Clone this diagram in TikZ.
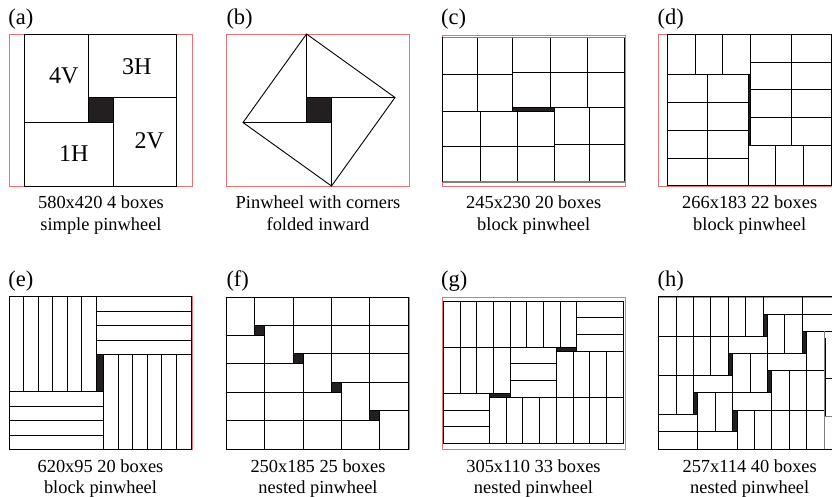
\documentclass[tikz,border=0pt]{standalone}
\usepackage{fontspec}
\setmainfont{Liberation Serif}
\definecolor{framered}{RGB}{238,112,112}
\definecolor{holeblack}{RGB}{35,31,32}
\newcommand\pbV[2]{\draw[pwcell] ({\ox+#1},{\oy+#2}) rectangle ++(\bw,\bh);}
\newcommand\pbH[2]{\draw[pwcell] ({\ox+#1},{\oy+#2}) rectangle ++(\bh,\bw);}
\newcommand\pbHole[4]{\fill[pwhole] ({\ox+#1},{\oy+#2}) rectangle ({\ox+#3},{\oy+#4});}
\begin{document}
\begin{tikzpicture}[x=1pt,y=-1pt,
  pwcell/.style={draw=black,line width=0.9pt},
  pwhole/.style={fill=holeblack},
  pwframe/.style={draw=framered,line width=0.8pt},
  pwlbl/.style={anchor=base west,inner sep=0pt,font=\fontsize{22.5}{26}\selectfont},
  captxt/.style={anchor=base,inner sep=0pt,font=\fontsize{18.4}{22}\selectfont},
  boxtxt/.style={inner sep=0pt,font=\fontsize{24}{28}\selectfont}]
\useasboundingbox (0,0) rectangle (832,496);
\fill[white] (0,0) rectangle (832,496);
\begin{scope}
\clip (0,0) rectangle (832,496);

% ---------- frames ----------
\draw[pwframe] (9.3,34) rectangle (192.7,186);
\draw[pwframe] (226.3,34) rectangle (409.7,186);
\draw[pwframe] (442,35) rectangle (625.4,186);
\draw[pwframe] (658,34.3) rectangle (841.4,186);
\draw[pwframe] (9,296.7) rectangle (192.3,449.4);
\draw[pwframe] (226.3,297) rectangle (409.3,449);
\draw[pwframe] (442,297) rectangle (625.4,449);
\draw[pwframe] (658.3,297) rectangle (841.4,449);

% ---------- (a) simple pinwheel ----------
\def\ox{24.5}\def\oy{34}\def\bw{63.5}\def\bh{88.5}
\pbHole{\bw}{\bw}{\bh}{\bh}
\pbV{0}{0}
\pbH{\bw}{0}
\pbV{\bh}{\bw}
\pbH{0}{\bh}
\node[boxtxt] (a4v) at (63.8,76.2) {4V};
\node[boxtxt] (a3h) at (136.7,67) {3H};
\node[boxtxt] (a1h) at (73.7,153.3) {1H};
\node[boxtxt] (a2v) at (149.2,141) {2V};

% ---------- (b) folded pinwheel ----------
\coordinate (bT) at (306.5,34);
\coordinate (bR) at (395,97.5);
\coordinate (bB) at (331.5,186);
\coordinate (bL) at (243,122.5);
\coordinate (bS1) at (306.5,97.5);
\coordinate (bS2) at (331.5,97.5);
\coordinate (bS3) at (331.5,122.5);
\coordinate (bS4) at (306.5,122.5);
\fill[pwhole] (bS1) rectangle (bS3);
\draw[pwcell] (bT) -- (bR) -- (bB) -- (bL) -- cycle;
\draw[pwcell] (bT) -- (bS4);
\draw[pwcell] (bR) -- (bS1);
\draw[pwcell] (bB) -- (bS2);
\draw[pwcell] (bL) -- (bS3);

% ---------- (c) block pinwheel 245x230 ----------
\def\ox{442.7}\def\oy{37.3}\def\bw{35}\def\bh{37.28}
\pbHole{2*\bw}{2*\bw}{3*\bh}{2*\bh}
\foreach \i in {0,1}{\foreach \j in {0,1}{\pbV{\i*\bw}{\j*\bh}}}
\foreach \i in {0,1,2}{\foreach \j in {0,1}{\pbH{2*\bw+\i*\bh}{\j*\bw}}}
\foreach \i in {0,1}{\foreach \j in {0,1}{\pbV{3*\bh+\i*\bw}{2*\bw+\j*\bh}}}
\foreach \i in {0,1,2}{\foreach \j in {0,1}{\pbH{\i*\bh}{2*\bh+\j*\bw}}}
\draw[draw=gray,line width=1.3pt] (\ox,\oy) -- ({\ox+2*\bw+3*\bh},\oy);
\draw[draw=gray,line width=1.3pt] (\ox,{\oy+2*\bw+2*\bh}) -- ({\ox+2*\bw+3*\bh},{\oy+2*\bw+2*\bh});

% ---------- (d) block pinwheel 266x183 ----------
\def\ox{667.3}\def\oy{34.3}\def\bw{27.8}\def\bh{40.4}
\pbHole{2*\bh}{\bh}{3*\bw}{4*\bw}
\foreach \i in {0,1,2}{\pbV{\i*\bw}{0}}
\foreach \i in {0,1}{\foreach \j in {0,1,2,3}{\pbH{3*\bw+\i*\bh}{\j*\bw}}}
\foreach \i in {0,1}{\foreach \j in {0,1,2,3}{\pbH{\i*\bh}{\bh+\j*\bw}}}
\foreach \i in {0,1,2}{\pbV{2*\bh+\i*\bw}{4*\bw}}

% ---------- (e) block pinwheel 620x95 ----------
\def\ox{9}\def\oy{296.7}\def\bw{14.53}\def\bh{94.8}
\pbHole{6*\bw}{4*\bw}{\bh}{\bh}
\foreach \i in {0,...,5}{\pbV{\i*\bw}{0}}
\foreach \j in {0,...,3}{\pbH{6*\bw}{\j*\bw}}
\foreach \i in {0,...,5}{\pbV{\bh+\i*\bw}{4*\bw}}
\foreach \j in {0,...,3}{\pbH{0}{\bh+\j*\bw}}

% ---------- (f) nested pinwheel 250x185 ----------
\def\ox{226.3}\def\oy{297}\def\bw{28.4}\def\bh{38.4}
\pbHole{\bw}{\bw}{\bh}{\bh}
\pbHole{\bh+\bw}{2*\bw}{2*\bh}{\bw+\bh}
\pbHole{2*\bh+\bw}{3*\bw}{3*\bh}{2*\bw+\bh}
\pbHole{3*\bh+\bw}{4*\bw}{4*\bh}{3*\bw+\bh}
\pbV{0}{0}
\foreach \i in {0,...,3}{\pbH{\bw+\i*\bh}{0}}
\pbH{0}{\bh}
\pbV{\bh}{\bw}
\foreach \i in {0,...,2}{\pbH{\bh+\bw+\i*\bh}{\bw}}
\foreach \i in {0,1}{\pbH{\i*\bh}{\bh+\bw}}
\pbV{2*\bh}{2*\bw}
\foreach \i in {0,1}{\pbH{2*\bh+\bw+\i*\bh}{2*\bw}}
\foreach \i in {0,...,2}{\pbH{\i*\bh}{\bh+2*\bw}}
\pbV{3*\bh}{3*\bw}
\pbH{3*\bh+\bw}{3*\bw}
\foreach \i in {0,...,3}{\pbH{\i*\bh}{\bh+3*\bw}}
\pbV{4*\bh}{4*\bw}

% ---------- (g) nested pinwheel 305x110 ----------
\def\ox{443.3}\def\oy{301}\def\bw{16.68}\def\bh{46.26}
\pbHole{4*\bw+\bh}{\bh}{8*\bw}{3*\bw}
\pbHole{\bh}{2*\bh}{4*\bw}{\bh+3*\bw}
\foreach \i in {0,...,7}{\pbV{\i*\bw}{0}}
\foreach \j in {0,...,2}{\pbH{8*\bw}{\j*\bw}}
\foreach \i in {0,...,3}{\pbV{\i*\bw}{\bh}}
\foreach \j in {0,...,2}{\pbH{4*\bw}{\bh+\j*\bw}}
\foreach \i in {0,...,3}{\pbV{4*\bw+\bh+\i*\bw}{3*\bw}}
\foreach \j in {0,...,2}{\pbH{0}{2*\bh+\j*\bw}}
\foreach \i in {0,...,7}{\pbV{\bh+\i*\bw}{\bh+3*\bw}}

% ---------- (h) nested pinwheel 257x114 ----------
\def\ox{658.7}\def\oy{296.8}\def\bw{17.39}\def\bh{39.2}
\pbHole{6*\bw}{\bw}{4*\bw+\bh}{\bh}
\pbHole{6*\bw+\bh}{2*\bw}{4*\bw+2*\bh}{\bw+\bh}
\pbHole{4*\bw}{\bh+\bw}{2*\bw+\bh}{2*\bh}
\pbHole{4*\bw+\bh}{\bh+2*\bw}{2*\bw+2*\bh}{2*\bh+\bw}
\pbHole{2*\bw}{2*\bh+\bw}{\bh}{3*\bh}
\pbHole{2*\bw+\bh}{2*\bh+2*\bw}{2*\bh}{3*\bh+\bw}
\foreach \i in {0,...,5}{\pbV{\i*\bw}{0}}
\pbH{6*\bw}{0}
\pbH{6*\bw+\bh}{0}
\pbV{4*\bw+\bh}{\bw}
\pbV{5*\bw+\bh}{\bw}
\pbH{6*\bw+\bh}{\bw}
\pbV{4*\bw+2*\bh}{2*\bw}
\foreach \i in {0,...,3}{\pbV{\i*\bw}{\bh}}
\pbH{4*\bw}{\bh}
\pbV{2*\bw+\bh}{\bh+\bw}
\pbV{3*\bw+\bh}{\bh+\bw}
\pbH{4*\bw+\bh}{\bh+\bw}
\foreach \i in {0,...,2}{\pbV{2*\bw+2*\bh+\i*\bw}{\bh+2*\bw}}
\pbV{0}{2*\bh}
\pbV{\bw}{2*\bh}
\pbH{2*\bw}{2*\bh}
\pbV{\bh}{2*\bh+\bw}
\pbV{\bh+\bw}{2*\bh+\bw}
\pbH{2*\bw+\bh}{2*\bh+\bw}
\foreach \i in {0,...,4}{\pbV{2*\bh+\i*\bw}{2*\bh+2*\bw}}
\pbH{0}{3*\bh}
\pbH{0}{3*\bh+\bw}
\pbH{\bh}{3*\bh+\bw}
\draw[draw=gray,line width=0.9pt] (824,331.4) -- (824,449);
\draw[pwcell] (825,338) -- (825,416.3);
\draw[pwcell] (825,378) -- (841.4,378);
\draw[draw=gray,line width=0.9pt] (824,416.3) -- (841.4,416.3);
\draw[pwcell] (824,296.8) -- (841.4,296.8);
\draw[pwcell] (824,449.2) -- (841.4,449.2);
\end{scope}

% ---------- panel labels ----------
\node[pwlbl] (la) at (8.3,24) {(a)};
\node[pwlbl] (lb) at (226.3,24) {(b)};
\node[pwlbl] (lc) at (441,24) {(c)};
\node[pwlbl] (ld) at (657.3,24) {(d)};
\node[pwlbl] (le) at (8.3,286) {(e)};
\node[pwlbl] (lf) at (226.3,286) {(f)};
\node[pwlbl] (lg) at (441,286) {(g)};
\node[pwlbl] (lh) at (657.3,286) {(h)};

% ---------- captions ----------
\node[captxt] (ca1) at (101,208.3) {580x420 4 boxes};
\node[captxt] (ca2) at (101,230) {simple pinwheel};
\node[captxt] (cb1) at (318,208.3) {Pinwheel with corners};
\node[captxt] (cb2) at (318,230) {folded inward};
\node[captxt] (cc1) at (533.7,208.3) {245x230 20 boxes};
\node[captxt] (cc2) at (533.7,230) {block pinwheel};
\node[captxt] (cd1) at (749.7,208.3) {266x183 22 boxes};
\node[captxt] (cd2) at (749.7,230) {block pinwheel};
\node[captxt] (ce1) at (100.5,472) {620x95 20 boxes};
\node[captxt] (ce2) at (100.5,493) {block pinwheel};
\node[captxt] (cf1) at (318,472) {250x185 25 boxes};
\node[captxt] (cf2) at (318,493) {nested pinwheel};
\node[captxt] (cg1) at (533.5,472) {305x110 33 boxes};
\node[captxt] (cg2) at (533.5,493) {nested pinwheel};
\node[captxt] (ch1) at (749.7,472) {257x114 40 boxes};
\node[captxt] (ch2) at (749.7,493) {nested pinwheel};
\end{tikzpicture}
\end{document}
